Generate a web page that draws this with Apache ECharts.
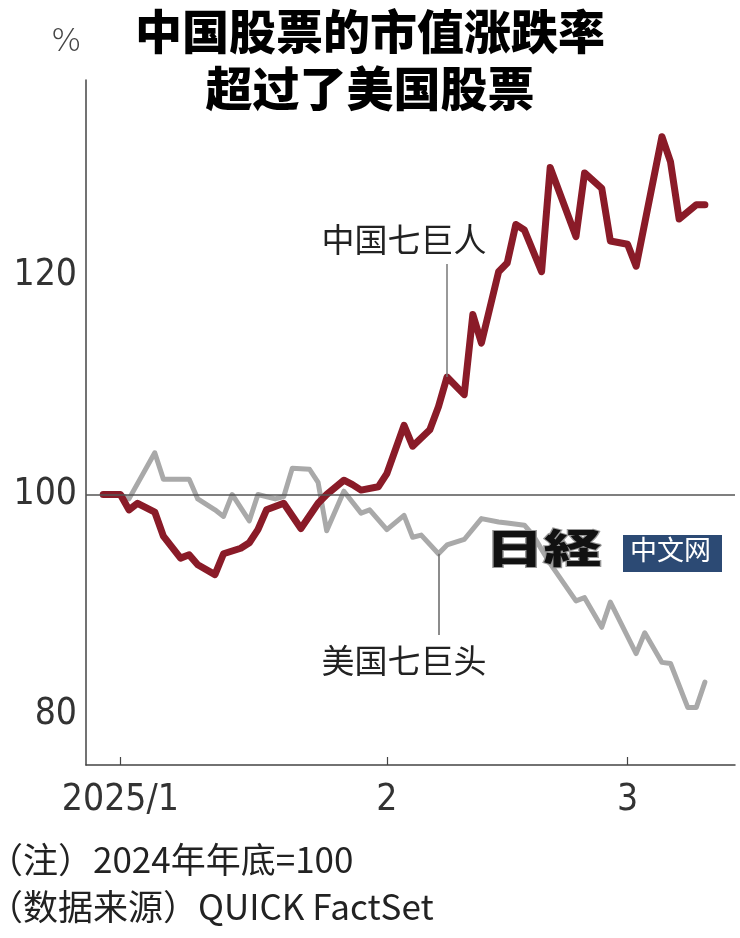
<!DOCTYPE html>
<html>
<head>
<meta charset="utf-8">
<script src="https://cdn.jsdelivr.net/npm/echarts@6/dist/echarts.min.js"></script>
<style>
  html, body { margin: 0; padding: 0; background: #fff; }
  #chart { width: 740px; height: 938px; }
</style>
</head>
<body>
<div id="chart"></div>
<script>
// ---- Data ----
const chinaDates = ['2024-12-30','2025-01-01','2025-01-02','2025-01-03','2025-01-05','2025-01-06','2025-01-08','2025-01-09','2025-01-10','2025-01-12',
  '2025-01-13','2025-01-15','2025-01-16','2025-01-17','2025-01-18','2025-01-20','2025-01-22','2025-01-24','2025-01-25','2025-01-27',
  '2025-01-28','2025-01-29','2025-01-31','2025-02-01','2025-02-03','2025-02-04','2025-02-06','2025-02-07','2025-02-08','2025-02-10',
  '2025-02-11','2025-02-12','2025-02-14','2025-02-15','2025-02-16','2025-02-17','2025-02-19','2025-02-20','2025-02-23','2025-02-24',
  '2025-02-26','2025-02-27','2025-03-01','2025-03-02','2025-03-05','2025-03-06','2025-03-07','2025-03-09','2025-03-10'];
const chinaValues = [100.0,100.0,98.6,99.2,98.4,96.2,94.2,94.5,93.6,92.7,
  94.6,95.1,95.6,96.8,98.6,99.2,96.9,99.2,100.0,101.3,
  100.9,100.4,100.7,101.9,106.3,104.4,105.9,108.0,110.7,109.1,
  116.4,113.8,120.3,121.1,124.6,124.1,120.3,129.8,123.5,129.3,
  127.9,123.1,122.8,120.8,132.6,130.3,125.1,126.4,126.4];

const usDates = ['2024-12-30','2025-01-01','2025-01-02','2025-01-05','2025-01-06','2025-01-09','2025-01-10','2025-01-12','2025-01-13','2025-01-14',
  '2025-01-16','2025-01-17','2025-01-19','2025-01-20','2025-01-21','2025-01-23','2025-01-24','2025-01-25','2025-01-27','2025-01-29',
  '2025-01-30','2025-02-01','2025-02-03','2025-02-04','2025-02-05','2025-02-07','2025-02-08','2025-02-10','2025-02-12','2025-02-14',
  '2025-02-15','2025-02-17','2025-02-18','2025-02-20','2025-02-23','2025-02-24','2025-02-26','2025-02-27','2025-03-02','2025-03-03',
  '2025-03-05','2025-03-06','2025-03-08','2025-03-09','2025-03-10'];
const usValues = [100.0,100.0,99.6,103.8,101.4,101.4,99.6,98.6,98.0,100.0,
  97.6,100.0,99.6,99.8,102.4,102.3,101.1,96.7,100.3,98.3,
  98.6,96.8,98.1,96.1,96.3,94.6,95.4,95.9,97.8,97.5,
  97.4,97.2,96.3,93.7,90.3,90.6,87.9,90.2,85.5,87.4,
  84.7,84.6,80.6,80.6,82.9];

const yTickValues = [80, 100, 120];
const xTickDates = ['2025-01-01', '2025-02-01', '2025-03-01'];
const baseValue = 100;

const chinaLabel = '中国七巨人';
const usLabel = '美国七巨头';
const chinaLabelAnchor = ['2025-02-03', 123.2];
const chinaLeader = [['2025-02-08', 110.7], ['2025-02-08', 121.0]];
const usLabelAnchor = ['2025-02-03', 84.9];
const usLeader = [['2025-02-07', 94.6], ['2025-02-07', 87.2]];

// ---- Chart ----
const parse = (s) => echarts.time.parse(s).getTime();
const xTicks = xTickDates.map(parse);
const pt = (p) => [parse(p[0]), p[1]];

const chart = echarts.init(document.getElementById('chart'), null, { renderer: 'canvas' });

const numFont = '"DejaVu Sans Condensed", "DejaVu Sans", sans-serif';
const cjkFont = '"Noto Sans CJK SC", "Noto Sans", sans-serif';

const option = {
  backgroundColor: '#ffffff',
  animation: false,
  title: {
    text: '中国股票的市值涨跌率\n超过了美国股票',
    left: 'center',
    top: -2,
    textStyle: {
      fontFamily: cjkFont,
      fontSize: 47,
      fontWeight: 900,
      color: '#000',
      lineHeight: 57
    }
  },
  grid: { left: 86, right: 5, top: 80, bottom: 173, containLabel: false },
  xAxis: {
    type: 'value',
    min: parse('2024-12-28'),
    max: parse('2025-03-13 12:00'),
    axisLine: { show: true, lineStyle: { color: '#444', width: 1.5 } },
    axisTick: { show: true, inside: true, length: 8, customValues: xTicks, lineStyle: { color: '#444', width: 1.2 } },
    axisLabel: {
      customValues: xTicks,
      margin: 17,
      fontFamily: numFont,
      fontSize: 37,
      color: '#333',
      formatter: function (v) {
        const d = new Date(v);
        const m = d.getMonth() + 1;
        return m === 1 ? d.getFullYear() + '/1' : String(m);
      }
    },
    splitLine: { show: false }
  },
  yAxis: {
    type: 'value',
    min: 75.35,
    max: 137.77,
    axisLine: { show: true, lineStyle: { color: '#444', width: 1.5 } },
    axisTick: { show: false },
    axisLabel: {
      customValues: yTickValues,
      margin: 9,
      fontFamily: numFont,
      fontSize: 37,
      color: '#333'
    },
    splitLine: { show: false }
  },
  series: [
    {
      name: '美国七巨头',
      type: 'line',
      data: usDates.map((d, i) => [parse(d), usValues[i]]),
      showSymbol: false,
      symbol: 'none',
      z: 2,
      lineStyle: { color: '#a9a9a9', width: 5, join: 'round', cap: 'round' },
      markLine: {
        silent: true,
        symbol: 'none',
        label: { show: false },
        data: [
          { yAxis: baseValue, lineStyle: { color: '#555', width: 1.5, type: 'solid' } },
          [ { coord: pt(usLeader[0]) }, { coord: pt(usLeader[1]) } ]
        ],
        lineStyle: { color: '#666', width: 1.5, type: 'solid' }
      },
      markPoint: {
        silent: true,
        data: [{
          coord: pt(usLabelAnchor),
          symbol: 'circle',
          symbolSize: 0,
          label: { show: true, position: 'inside', formatter: usLabel, fontFamily: cjkFont, fontSize: 33, color: '#222' }
        }]
      }
    },
    {
      name: '中国七巨人',
      type: 'line',
      data: chinaDates.map((d, i) => [parse(d), chinaValues[i]]),
      showSymbol: false,
      symbol: 'none',
      z: 3,
      lineStyle: { color: '#8a1b28', width: 7, join: 'round', cap: 'round' },
      markLine: {
        silent: true,
        symbol: 'none',
        label: { show: false },
        data: [
          [ { coord: pt(chinaLeader[0]) }, { coord: pt(chinaLeader[1]) } ]
        ],
        lineStyle: { color: '#777', width: 1.5, type: 'solid' }
      },
      markPoint: {
        silent: true,
        data: [{
          coord: pt(chinaLabelAnchor),
          symbol: 'circle',
          symbolSize: 0,
          label: { show: true, position: 'inside', formatter: chinaLabel, fontFamily: cjkFont, fontSize: 33, color: '#222' }
        }]
      }
    }
  ],
  graphic: [
    { type: 'text', left: 51, top: 27, style: { text: '%', fontFamily: '"DejaVu Sans", sans-serif', fontSize: 32, fontWeight: 300, fill: '#444' } },
    { type: 'text', left: -12, top: 842, style: { text: '（注）2024年年底=100', fontFamily: cjkFont, fontSize: 35, fill: '#222' } },
    { type: 'text', left: -12, top: 889, style: { text: '（数据来源）QUICK FactSet', fontFamily: cjkFont, fontSize: 35, fill: '#222' } },
    { type: 'text', left: 484, top: 527, z: 20, scaleX: 1.45, style: { text: '日経', fontFamily: '"Noto Sans CJK JP", sans-serif', fontSize: 40, fontWeight: 900, fill: '#111', stroke: '#999', lineWidth: 2 } },
    { type: 'rect', left: 623, top: 535, z: 20, shape: { width: 99, height: 37 }, style: { fill: '#2c4a74' } },
    { type: 'text', left: 630, top: 536, z: 21, style: { text: '中文网', fontFamily: cjkFont, fontSize: 27, fill: '#fff' } }
  ]
};

chart.setOption(option);
</script>
</body>
</html>
